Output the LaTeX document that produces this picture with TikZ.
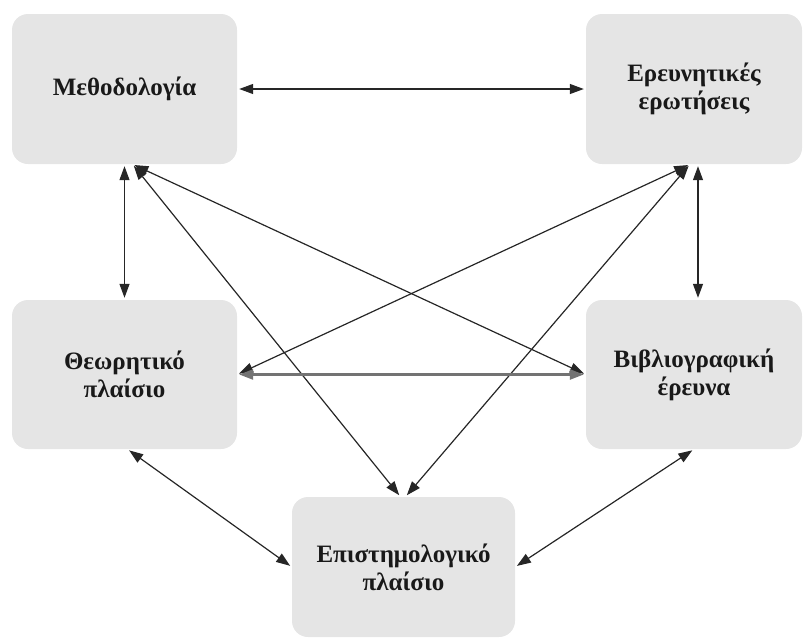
\documentclass[tikz,border=0pt]{standalone}
\usepackage{fontspec}
\setmainfont{Liberation Serif}
\usetikzlibrary{arrows.meta}
\begin{document}
\begin{tikzpicture}[x=1pt,y=-1pt,
  box/.style={rectangle,rounded corners=16pt,fill=boxgray,draw=none,align=center,
    font=\fontsize{25}{28}\selectfont\bfseries,text=black!90},
  link/.style={{Triangle[length=14pt,width=10pt]}-{Triangle[length=14pt,width=10pt]},line width=1.2pt,draw=black!85,shorten <=2pt,shorten >=2pt},
  thicklink/.style={link,line width=2.4pt,draw=black!55}]
\definecolor{boxgray}{HTML}{E5E5E5}
\useasboundingbox (0,0) rectangle (803,640);
\node[box,minimum width=225pt,minimum height=150pt] (A) at (124.5,89) {Μεθοδολογία};
\node[box,minimum width=216pt,minimum height=150pt] (B) at (694,89) {Ερευνητικές\\ερωτήσεις};
\node[box,minimum width=225pt,minimum height=149pt] (C) at (124.5,374.5) {Θεωρητικό\\πλαίσιο};
\node[box,minimum width=216pt,minimum height=149pt] (D) at (694,374.5) {Βιβλιογραφική\\έρευνα};
\node[box,minimum width=223pt,minimum height=140pt] (E) at (403.5,567) {Επιστημολογικό\\πλαίσιο};
\coordinate (As) at ([xshift=8pt]A.south);
\coordinate (Bs) at ([xshift=-4pt]B.south);
\coordinate (Bv) at ([xshift=4pt]B.south);
\coordinate (En1) at ([xshift=-3pt]E.north);
\coordinate (En2) at ([xshift=2pt]E.north);
\coordinate (Cs) at ([xshift=3pt]C.south);
\draw[link] (A.east) -- (B.west);
\draw[link] (A.south) -- (C.north);
\draw[link] (Bv) -- (Bv |- D.north);
\draw[link] (As) -- (D.west);
\draw[link] (As) -- (En1);
\draw[link] (Bs) -- (C.east);
\draw[link] (Bs) -- (En2);
\draw[thicklink] (C.east) -- (D.west);
\draw[link] (Cs) -- (E.west);
\draw[link] (D.south) -- (E.east);
\end{tikzpicture}
\end{document}
